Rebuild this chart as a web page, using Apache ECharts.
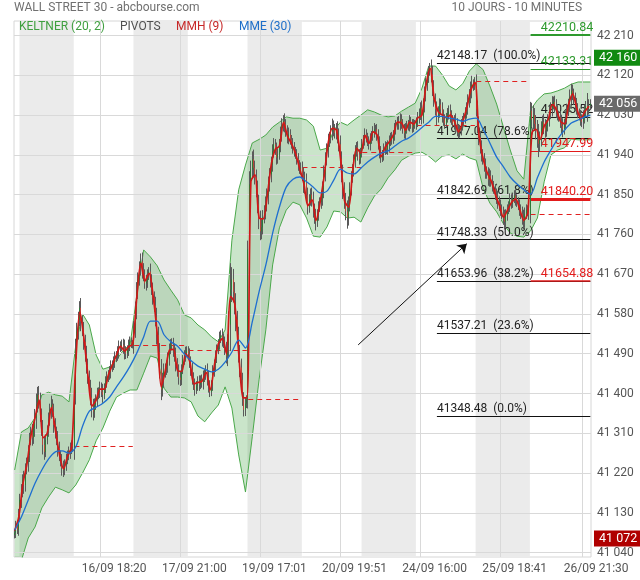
<!DOCTYPE html>
<html>
<head>
<meta charset="utf-8">
<script src="https://cdn.jsdelivr.net/npm/echarts@6.0.0/dist/echarts.min.js"></script>
<style>
html,body{margin:0;padding:0;background:#fff;}
#chart{width:640px;height:580px;}
</style>
</head>
<body>
<div id="chart"></div>
<script>
// ---------- DATA ----------
const dayNames = ['12/09','13/09','16/09','17/09','18/09','19/09','20/09','23/09','24/09','25/09','26/09'];
const firstOpen = 41080;
// 10-minute closes, one array per session
const c1209 = [41085, 41100, 41092, 41125];
const c1309 = [41159, 41177, 41205, 41193, 41227, 41245, 41261, 41295, 41313, 41300, 41322, 41345, 41375, 41397, 41386, 41352, 41318, 41284, 41268, 41295, 41318, 41341, 41363, 41375, 41359, 41329, 41313, 41295, 41277, 41261, 41245, 41232, 41227, 41239, 41250, 41261, 41268, 41273, 41284, 41280];
const c1609 = [41400, 41499, 41540, 41567, 41594, 41563, 41544, 41517, 41488, 41465, 41436, 41413, 41391, 41368, 41359, 41375, 41386, 41397, 41404, 41413, 41404, 41397, 41413, 41427, 41436, 41443, 41450, 41459, 41465, 41472, 41481, 41486, 41495, 41504, 41508, 41510, 41504, 41495, 41490, 41499, 41508, 41517, 41513, 41510];
const c1709 = [41544, 41590, 41630, 41658, 41685, 41699, 41680, 41669, 41649, 41653, 41667, 41676, 41658, 41635, 41617, 41599, 41572, 41533, 41494, 41454, 41409, 41431, 41450, 41454, 41463, 41477, 41499, 41513, 41510, 41499, 41486, 41468, 41450, 41436, 41431, 41454, 41477, 41486, 41492, 41497];
const c1809 = [41490, 41470, 41454, 41436, 41420, 41409, 41418, 41427, 41420, 41431, 41425, 41436, 41445, 41450, 41436, 41418, 41404, 41420, 41450, 41465, 41481, 41499, 41513, 41526, 41531, 41522, 41517, 41499, 41486, 41510, 41556, 41635, 41658, 41630, 41601, 41567, 41533, 41488, 41459, 41431, 41388, 41363, 41377, 41386];
const c1909 = [41726, 41873, 41907, 41930, 41911, 41889, 41862, 41828, 41794, 41767, 41776, 41799, 41812, 41828, 41848, 41871, 41896, 41918, 41948, 41964, 41952, 41934, 41941, 41964, 41986, 42007, 42016, 42009, 41993, 41980, 41986, 41975, 41964, 41957, 41948, 41941, 41930, 41918, 41907, 41911];
const c2009 = [41895, 41870, 41884, 41850, 41821, 41839, 41850, 41839, 41816, 41798, 41789, 41805, 41821, 41834, 41843, 41862, 41896, 41930, 41952, 41970, 41980, 41993, 42002, 41998, 41989, 41998, 41984, 41964, 41930, 41896, 41862, 41834, 41812, 41798, 41828, 41862, 41889, 41907, 41925, 41948, 41957, 41941, 41930, 41946];
const c2309 = [41964, 41975, 41986, 41980, 41970, 41964, 41975, 41984, 41993, 41998, 41998, 41984, 41966, 41948, 41934, 41941, 41952, 41959, 41952, 41961, 41970, 41980, 41975, 41986, 41998, 42007, 42016, 42009, 42020, 42011, 41998, 41989, 41998, 42007, 42007, 42016, 42009, 42002, 42011, 42007];
const c2409 = [42015, 42025, 42031, 42047, 42025, 42054, 42077, 42099, 42115, 42129, 42138, 42122, 42093, 42065, 42043, 42025, 42038, 42054, 42043, 42029, 42020, 42011, 42025, 42034, 42038, 42029, 42020, 42011, 42016, 42007, 41998, 41989, 41998, 42007, 42016, 42025, 42034, 42047, 42061, 42075, 42088, 42099, 42097, 42106];
const c2509 = [42043, 42009, 41980, 41957, 41941, 41930, 41916, 41902, 41898, 41884, 41893, 41880, 41871, 41862, 41850, 41843, 41834, 41825, 41816, 41807, 41798, 41789, 41803, 41816, 41825, 41839, 41830, 41843, 41848, 41839, 41834, 41825, 41816, 41807, 41798, 41789, 41807, 41816, 41812, 41805];
const c2609 = [42040, 42020, 42030, 42010, 41995, 41980, 41965, 41975, 42000, 42015, 42005, 41995, 42005, 42020, 42035, 42045, 42055, 42060, 42050, 42040, 42030, 42025, 42015, 42005, 41998, 42010, 42025, 42040, 42055, 42070, 42085, 42078, 42065, 42055, 42045, 42035, 42028, 42020, 42015, 42025, 42040, 42050, 42045, 42052, 42056];
// wick extent beyond the body (points), one per bar
const w1209 = [8, 12, 10, 14];
const w1309 = [14, 18, 12, 20, 15, 10, 22, 16, 12, 18, 14, 20, 25, 18, 20, 16, 14, 22, 18, 12, 10, 16, 14, 20, 12, 18, 15, 12, 20, 14, 10, 18, 16, 12, 14, 10, 12, 16, 10, 12];
const w1609 = [30, 25, 20, 18, 15, 22, 14, 18, 16, 20, 14, 16, 18, 22, 20, 14, 12, 16, 10, 14, 12, 18, 10, 12, 14, 10, 12, 16, 10, 12, 14, 10, 12, 16, 10, 12, 14, 18, 12, 10, 14, 12, 10, 8];
const w1709 = [20, 18, 22, 16, 14, 18, 20, 15, 12, 16, 14, 10, 18, 12, 16, 14, 20, 22, 18, 20, 24, 16, 18, 14, 12, 16, 14, 10, 12, 16, 14, 18, 12, 16, 14, 12, 10, 12, 14, 10];
const w1809 = [10, 12, 14, 16, 12, 14, 10, 12, 14, 10, 12, 16, 10, 14, 18, 16, 12, 10, 14, 12, 16, 12, 10, 14, 12, 16, 14, 12, 18, 24, 30, 60, 28, 24, 22, 26, 20, 18, 22, 20, 16, 15, 14, 10];
const w1909 = [20, 30, 20, 18, 22, 16, 18, 20, 22, 20, 18, 16, 14, 18, 16, 20, 14, 18, 16, 14, 12, 16, 14, 12, 18, 16, 14, 18, 12, 14, 16, 12, 10, 14, 12, 10, 12, 14, 10, 12];
const w2009 = [14, 16, 18, 14, 16, 12, 14, 16, 18, 14, 20, 12, 14, 10, 16, 18, 20, 16, 14, 18, 12, 14, 20, 16, 12, 14, 18, 16, 20, 18, 22, 16, 20, 25, 18, 16, 14, 12, 16, 14, 12, 14, 12, 10];
const w2309 = [12, 10, 14, 12, 10, 12, 14, 10, 12, 14, 10, 12, 14, 16, 12, 10, 14, 12, 10, 12, 14, 10, 12, 10, 14, 12, 10, 12, 14, 12, 10, 12, 14, 10, 12, 14, 10, 12, 10, 8];
const w2409 = [10, 12, 14, 12, 16, 14, 18, 16, 14, 12, 10, 18, 20, 16, 14, 18, 12, 14, 12, 16, 14, 12, 10, 12, 14, 16, 12, 10, 14, 18, 16, 12, 10, 14, 12, 10, 14, 12, 16, 14, 18, 20, 12, 10];
const w2509 = [16, 20, 18, 14, 16, 12, 14, 16, 12, 14, 16, 12, 14, 10, 12, 14, 16, 12, 14, 12, 16, 18, 14, 12, 10, 14, 12, 10, 12, 14, 12, 10, 14, 12, 16, 18, 14, 12, 10, 12];
const w2609 = [20, 18, 22, 16, 20, 24, 30, 18, 16, 14, 18, 16, 14, 12, 16, 14, 18, 12, 14, 16, 12, 10, 14, 16, 18, 12, 14, 16, 12, 18, 16, 14, 12, 16, 14, 12, 10, 14, 12, 16, 14, 12, 30, 14, 10];

// Keltner (20,2) upper / lower and MME(30): one reading every 5 bars (last = final bar)
const kcUpper = [41227, 41313, 41322, 41345, 41397, 41403, 41397, 41394, 41381, 41510, 41580, 41555, 41487, 41455, 41460, 41476, 41498, 41510, 41623, 41725, 41709, 41689, 41657, 41634, 41612, 41578, 41571, 41555, 41544, 41528, 41517, 41544, 41747, 41861, 41917, 41967, 41975, 41985, 42003, 42014, 42026, 42023, 42023, 42019, 42005, 41951, 41955, 41996, 42014, 42007, 42019, 42030, 42042, 42037, 42030, 42026, 42028, 42039, 42048, 42057, 42091, 42141, 42141, 42121, 42096, 42087, 42101, 42130, 42146, 42133, 42096, 42055, 42003, 41951, 41904, 41885, 42042, 42064, 42078, 42080, 42085, 42091, 42100, 42105, 42105, 42105];
const kcLower = [41000, 41023, 41073, 41098, 41141, 41166, 41188, 41182, 41175, 41193, 41220, 41250, 41293, 41322, 41360, 41392, 41401, 41408, 41408, 41446, 41485, 41480, 41412, 41392, 41392, 41390, 41381, 41349, 41336, 41356, 41374, 41415, 41367, 41261, 41177, 41302, 41431, 41544, 41691, 41775, 41815, 41833, 41827, 41797, 41756, 41754, 41777, 41813, 41811, 41797, 41799, 41788, 41820, 41847, 41863, 41888, 41906, 41928, 41937, 41944, 41946, 41937, 41924, 41937, 41940, 41931, 41942, 41933, 41928, 41865, 41831, 41811, 41784, 41763, 41756, 41754, 41768, 41797, 41879, 41940, 41951, 41956, 41976, 41974, 41974, 41974];
const mme30 = [41091, 41121, 41159, 41197, 41227, 41252, 41268, 41270, 41265, 41279, 41326, 41360, 41369, 41378, 41392, 41415, 41437, 41462, 41492, 41528, 41564, 41564, 41533, 41517, 41507, 41489, 41474, 41462, 41455, 41449, 41455, 41471, 41494, 41521, 41503, 41562, 41630, 41691, 41763, 41822, 41867, 41885, 41890, 41879, 41867, 41854, 41858, 41883, 41908, 41899, 41897, 41910, 41924, 41935, 41944, 41949, 41960, 41971, 41978, 41989, 42002, 42014, 42027, 42027, 42023, 42021, 42016, 42021, 42023, 41998, 41967, 41935, 41913, 41890, 41874, 41861, 41851, 41888, 41924, 41951, 41976, 41996, 42012, 42019, 42026, 42030];
// MMH(9): one reading every 3 bars
const mmh9 = [41090, 41120, 41195, 41240, 41305, 41345, 41385, 41300, 41310, 41368,
  41318, 41262, 41230, 41258, 41280, 41470, 41585, 41525, 41440, 41372,
  41385, 41410, 41410, 41442, 41465, 41487, 41507, 41496, 41506, 41512,
  41620, 41695, 41655, 41672, 41620, 41535, 41415, 41452, 41498, 41500,
  41452, 41450, 41490, 41472, 41422, 41425, 41428, 41448, 41408, 41462,
  41512, 41524, 41490, 41620, 41605, 41492, 41392, 41390, 41880, 41895,
  41798, 41795, 41846, 41918, 41953, 41960, 42013, 41982, 41965, 41942,
  41908, 41875, 41825, 41838, 41792, 41833, 41893, 41968, 42000, 41996,
  41932, 41836, 41822, 41905, 41955, 41944, 41984, 41966, 41992, 41985,
  41936, 41958, 41970, 41986, 42014, 42012, 41996, 42014, 42010, 42024,
  42030, 42098, 42136, 42068, 42038, 42030, 42024, 42030, 42015, 41992,
  42015, 42046, 42087, 42104, 41985, 41932, 41900, 41881, 41851, 41826,
  41799, 41815, 41832, 41840, 41817, 41792, 41810, 41990, 41998, 41975,
  42005, 42020, 42054, 42042, 42016, 42010, 42054, 42078, 42046, 42021,
  42038, 42050];

// previous-session close (dashed red), per session
const prevClose = [null, null, 41280, 41510, 41497, 41387, 41911, 41946, 42007, 42106, 41805];
// pivots of the last session
const pivotVals = [42210.84, 42133.31, 42025.52, 41947.99, 41840.20, 41654.88];
const pivotText = ['42210.84', '42133.31', '42025.52', '41947.99', '41840.20', '41654.88'];
// Fibonacci retracement
const fibVals = [42148.17, 41977.04, 41842.69, 41748.33, 41653.96, 41537.21, 41348.48];
const fibPct = ['100.0%', '78.6%', '61.8%', '50.0%', '38.2%', '23.6%', '0.0%'];
const fibStartBar = 311;
// arrow annotation [bar, price]
const arrowFrom = [253, 41510];
const arrowTo = [333, 41739];
// axis
const yTicks = [41040, 41130, 41220, 41310, 41400, 41490, 41580, 41670, 41760, 41850, 41940, 42030, 42120, 42210];
const xTickBars = [63, 122, 181, 240, 299, 358, 418];
const xTickLabels = ['16/09 18:20', '17/09 21:00', '19/09 17:01', '20/09 19:51', '24/09 16:00', '25/09 18:41', '26/09 21:30'];
const tagVals = [42160, 42056, 41072];

// ---------- BUILD ----------
const dayCloses = [c1209, c1309, c1609, c1709, c1809, c1909, c2009, c2309, c2409, c2509, c2609];
const dayWicks = [w1209, w1309, w1609, w1709, w1809, w1909, w2009, w2309, w2409, w2509, w2609];
const ohlc = [], bodies = [], dayStart = [], dayEnd = [];
let prev = firstOpen;
dayCloses.forEach((arr, d) => {
  dayStart.push(ohlc.length);
  arr.forEach((c, k) => {
    const o = prev;
    const w = dayWicks[d][k] != null ? dayWicks[d][k] : 10;
    ohlc.push([o, c, Math.min(o, c) - w, Math.max(o, c) + w]);
    bodies.push([o, c, Math.min(o, c), Math.max(o, c)]);
    prev = c;
  });
  dayEnd.push(ohlc.length - 1);
});
const N = ohlc.length;
const cats = Array.from({length: N}, (_, i) => String(i));
const step5 = (k) => Math.min(k * 5, N - 1);
const kcIdx = kcUpper.map((_, k) => step5(k));
const mmeData = mme30.map((v, k) => [step5(k), v]);
const mmhData = mmh9.map((v, k) => [Math.min(k * 3, N - 1), v]);
const upData = kcUpper.map((v, k) => [kcIdx[k], v]);
const loData = kcLower.map((v, k) => [kcIdx[k], v]);
const grayBands = [];
for (let d = 1; d < dayNames.length; d += 2) grayBands.push([dayStart[d], dayEnd[d], 41500]);

const FONT = 'Roboto';
const fmtK = (v) => { const s = String(Math.round(v)); return s.slice(0, s.length - 3) + ' ' + s.slice(-3); };
const Y_MIN = 41030, Y_MAX = 42243;

// annotation mark lines
const annot = [];
fibVals.forEach((v, k) => {
  annot.push([
    {coord: [fibStartBar, v], lineStyle: {color: '#111', width: 1, type: 'solid'},
     label: {show: true, position: 'insideStartTop', distance: [0, 1], formatter: v.toFixed(2) + '  (' + fibPct[k] + ')',
             color: '#222', fontSize: 12, fontFamily: FONT}},
    {coord: [N - 1, v]}
  ]);
});
const pivotColor = ['#2e9a2e', '#2e9a2e', '#222', '#e21b1b', '#e21b1b', '#e21b1b'];
const pivotWidth = [2, 1, 1, 1, 3, 1.5];
const lastDay = dayNames.length - 1;
pivotVals.forEach((v, k) => {
  annot.push([
    {coord: [dayStart[lastDay], v], lineStyle: {color: pivotColor[k], width: pivotWidth[k], type: 'solid'},
     label: {show: true, position: 'insideEndTop', distance: [-3, 1], formatter: pivotText[k],
             color: pivotColor[k], fontSize: 12.5, fontFamily: FONT}},
    {coord: [N - 1, v]}
  ]);
});
prevClose.forEach((v, d) => {
  if (v == null) return;
  annot.push([
    {coord: [dayStart[d], v], lineStyle: {color: '#e02020', width: 1, type: [5, 4]}, label: {show: false}},
    {coord: [dayEnd[d], v]}
  ]);
});
annot.push([
  {coord: arrowFrom, symbol: 'none', lineStyle: {color: '#111', width: 1, type: 'solid'}, label: {show: false}},
  {coord: arrowTo, symbol: 'arrow', symbolSize: 9}
]);

const tagColors = ['#118a11', '#6a6a6a', '#b00000'];

const option = {
  animation: false,
  backgroundColor: '#fff',
  textStyle: {fontFamily: FONT},
  title: [
    {text: 'WALL STREET 30 - abcbourse.com', left: 14, top: 2, padding: 0, textStyle: {fontFamily: FONT, fontSize: 12, fontWeight: 'normal', color: '#707070'}},
    {text: '10 JOURS - 10 MINUTES', right: 58, top: 2, padding: 0, textStyle: {fontFamily: FONT, fontSize: 12, fontWeight: 'normal', color: '#707070'}},
    {text: 'KELTNER (20, 2)', left: 19, top: 21, padding: 0, textStyle: {fontFamily: FONT, fontSize: 12, fontWeight: 'normal', color: '#3f9f3f'}},
    {text: 'PIVOTS', left: 120, top: 21, padding: 0, textStyle: {fontFamily: FONT, fontSize: 12, fontWeight: 'normal', color: '#505050'}},
    {text: 'MMH (9)', left: 176, top: 21, padding: 0, textStyle: {fontFamily: FONT, fontSize: 12, fontWeight: 'normal', color: '#c62828'}},
    {text: 'MME (30)', left: 239, top: 21, padding: 0, textStyle: {fontFamily: FONT, fontSize: 12, fontWeight: 'normal', color: '#1e6fc9'}}
  ],
  grid: {left: 14, right: 49, top: 21, bottom: 23, show: true, borderColor: '#d6d6d6', borderWidth: 1, backgroundColor: 'transparent'},
  xAxis: {
    type: 'category', data: cats, boundaryGap: true,
    axisLine: {show: false}, axisTick: {show: false}, splitLine: {show: false},
    axisLabel: {
      interval: (idx) => xTickBars.indexOf(idx) >= 0,
      formatter: (val, idx) => { const k = xTickBars.indexOf(Number(val)); return k >= 0 ? xTickLabels[k] : ''; },
      color: '#555', fontSize: 12, fontFamily: FONT, margin: 6, padding: [0, 0, 0, 28]
    }
  },
  yAxis: {
    type: 'value', position: 'right', min: Y_MIN, max: Y_MAX, scale: true,
    axisLine: {show: false}, axisTick: {show: false}, axisLabel: {show: false}, splitLine: {show: false}
  },
  series: [
    {
      type: 'custom', name: 'days', z: 0, silent: true,
      data: grayBands, encode: {x: [0, 1], y: 2},
      renderItem: (params, api) => {
        const w = api.size([1, 0])[0];
        const x0 = api.coord([api.value(0), api.value(2)])[0] - w / 2;
        const x1 = api.coord([api.value(1), api.value(2)])[0] + w / 2;
        const cs = params.coordSys;
        return {type: 'rect', shape: {x: x0, y: cs.y, width: x1 - x0, height: cs.height}, style: {fill: '#ebebeb'}};
      }
    },
    {
      type: 'line', name: 'grid', z: 1, silent: true, data: [],
      markLine: {
        silent: true, symbol: 'none', animation: false,
        lineStyle: {color: '#d9d9d9', width: 1, type: 'solid'},
        label: {show: true, position: 'end', distance: 6, formatter: (p) => fmtK(p.value), color: '#555', fontSize: 12, fontFamily: FONT, padding: [0, 0, 5, 0]},
        data: yTicks.map(v => ({yAxis: v})).concat(xTickBars.map(i => ({xAxis: i, label: {show: false}})))
      }
    },
    {
      type: 'custom', name: 'kcFill', z: 2, silent: true, clip: true,
      data: [[0, Y_MIN]],
      renderItem: (params, api) => {
        const pts = [];
        for (let k = 0; k < kcIdx.length; k++) pts.push(api.coord([kcIdx[k], kcUpper[k]]));
        for (let k = kcIdx.length - 1; k >= 0; k--) pts.push(api.coord([kcIdx[k], kcLower[k]]));
        return {type: 'polygon', shape: {points: pts}, style: {fill: 'rgba(60,160,60,0.27)'}};
      }
    },
    {type: 'line', name: 'kcUp', z: 3, silent: true, data: upData, showSymbol: false, symbol: 'none', lineStyle: {color: '#4aa84a', width: 1}},
    {type: 'line', name: 'kcLo', z: 3, silent: true, data: loData, showSymbol: false, symbol: 'none', lineStyle: {color: '#4aa84a', width: 1}},
    {
      type: 'line', name: 'annot', z: 4, silent: true, data: [],
      markLine: {silent: true, symbol: 'none', animation: false, data: annot}
    },
    {
      type: 'candlestick', name: 'wicks', z: 5, silent: true, data: ohlc, barWidth: 1.3,
      itemStyle: {color: '#5a5a5a', color0: '#5a5a5a', borderColor: '#5a5a5a', borderColor0: '#5a5a5a', borderWidth: 1}
    },
    {
      type: 'candlestick', name: 'bodies', z: 6, silent: true, data: bodies, barWidth: 1.3,
      itemStyle: {color: '#2c7a38', color0: '#b8463a', borderColor: '#2c7a38', borderColor0: '#b8463a', borderWidth: 1}
    },
    {type: 'line', name: 'MMH (9)', z: 7, silent: true, data: mmhData, showSymbol: false, symbol: 'none', smooth: 0.3, lineStyle: {color: '#d01818', width: 1.7}},
    {type: 'line', name: 'MME (30)', z: 8, silent: true, data: mmeData, showSymbol: false, symbol: 'none', smooth: 0.3, lineStyle: {color: '#1e6fd0', width: 1.3}},
    {
      type: 'line', name: 'tags', z: 9, silent: true, data: [],
      markLine: {
        silent: true, symbol: 'none', animation: false,
        lineStyle: {color: 'transparent', width: 0},
        data: tagVals.map((v, k) => ({yAxis: v,
          lineStyle: {color: 'transparent', width: 0},
          label: {show: true, position: 'end', distance: 3, formatter: fmtK(v), color: '#fff',
            backgroundColor: tagColors[k], padding: [2, 5, 1, 5], fontSize: 12.5, fontFamily: FONT}}))
      }
    }
  ]
};
const chart = echarts.init(document.getElementById('chart'));
chart.setOption(option);
</script>
</body>
</html>
